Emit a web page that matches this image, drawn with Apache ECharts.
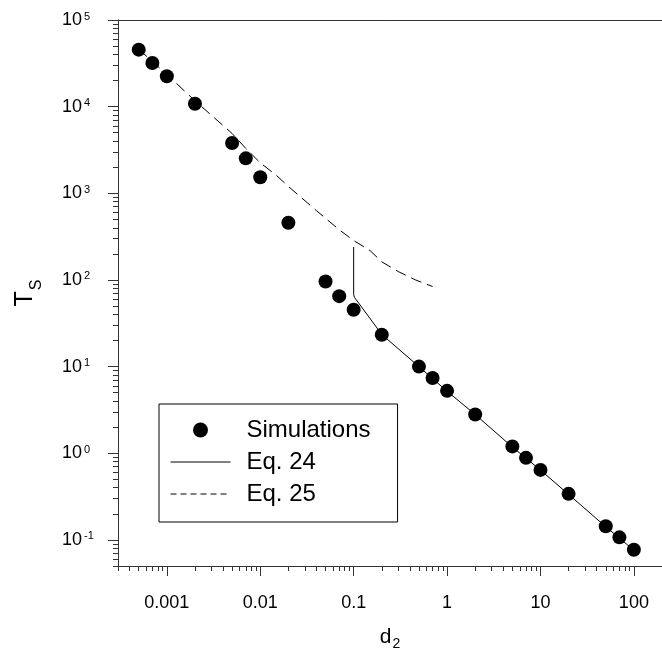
<!DOCTYPE html>
<html>
<head>
<meta charset="utf-8">
<script src="https://cdn.jsdelivr.net/npm/echarts@6/dist/echarts.min.js"></script>
<style>
  html, body { margin: 0; padding: 0; background: #fff; }
  #chart { width: 662px; height: 656px; }
</style>
</head>
<body>
<div id="chart"></div>
<script>
// Simulated settling times T_S against d_2
const simD2 = [0.0005, 0.0007, 0.001, 0.002, 0.005, 0.007, 0.01, 0.02,
               0.05, 0.07, 0.1, 0.2, 0.5, 0.7, 1, 2, 5, 7, 10, 20, 50, 70, 100];
const simTs = [45500, 31900, 22400, 10800, 3800, 2530, 1530, 458,
               96, 65, 45.3, 23.3, 10.0, 7.4, 5.25, 2.8, 1.2, 0.885, 0.643, 0.34, 0.144, 0.107, 0.077];

// Eq. 24 (valid for d_2 >= 0.1)
const eq24D2 = [0.1, 0.1, 0.102, 0.2, 0.5, 1, 2, 5, 10, 20, 50, 100];
const eq24Ts = [240, 68, 63, 23.5, 10, 5.2, 2.8, 1.18, 0.64, 0.335, 0.142, 0.076];

// Eq. 25 (small d_2)
const eq25D2 = [0.0005, 0.001, 0.002, 0.005, 0.007, 0.01, 0.015, 0.02, 0.04, 0.07, 0.1, 0.15, 0.2, 0.3, 0.46, 0.7];
const eq25Ts = [46000, 23500, 11700, 4900, 3300, 2250, 1600, 1200, 630, 380, 285, 218, 162, 125, 100, 84];

// Axis tick marks
const xMajorTicks = [0.001, 0.01, 0.1, 1, 10, 100];
const xTickLabels = ['0.001', '0.01', '0.1', '1', '10', '100'];
const yMajorTicks = [0.1, 1, 10, 100, 1000, 10000, 100000];
const yExponents = ['-1', '0', '1', '2', '3', '4', '5'];
const minorSteps = [2, 3, 4, 5, 6, 7, 8, 9];
const xDecades = [0.0001, 0.001, 0.01, 0.1, 1, 10, 100];
const yDecades = [0.01, 0.1, 1, 10, 100, 1000, 10000];

const X_MIN = 0.0003, X_MAX = 200;
const Y_MIN = 0.05, Y_MAX = 100000;

function minorTicks(decades, lo, hi) {
  const out = [];
  decades.forEach(d => minorSteps.forEach(m => {
    const v = +(d * m).toPrecision(6);
    if (v >= lo * 0.999 && v <= hi * 1.001) out.push(v);
  }));
  return out;
}
const xMinorTicks = minorTicks(xDecades, X_MIN, X_MAX);
const yMinorTicks = minorTicks(yDecades, Y_MIN, Y_MAX);

const FONT = 'Liberation Sans, Arial, sans-serif';
const AXIS_COLOR = '#333';

function zip(a, b) { return a.map((v, i) => [v, b[i]]); }

const chart = echarts.init(document.getElementById('chart'), null, { renderer: 'canvas' });

chart.setOption({
  animation: false,
  backgroundColor: '#fff',
  textStyle: { fontFamily: FONT },
  grid: { left: 118, top: 20, right: 0, bottom: 90, outerBoundsMode: 'none', containLabel: false },
  legend: {
    orient: 'vertical',
    left: 159,
    top: 404,
    padding: [14, 27, 16, 11],
    borderColor: '#000',
    borderWidth: 1,
    itemWidth: 60,
    itemHeight: 15,
    itemGap: 8,
    selectedMode: false,
    textStyle: { fontFamily: FONT, fontSize: 24, color: '#000', padding: [0, 0, 0, 11] },
    data: [
      { name: 'Simulations', icon: 'circle' },
      { name: 'Eq. 24', itemStyle: { opacity: 0 }, lineStyle: { type: 'solid', width: 1 } },
      { name: 'Eq. 25', itemStyle: { opacity: 0 }, lineStyle: { type: [6, 4], width: 1 } }
    ]
  },
  xAxis: [
    {
      type: 'log', min: X_MIN, max: X_MAX, position: 'bottom',
      axisLine: { show: true, lineStyle: { color: AXIS_COLOR, width: 1 } },
      axisTick: { show: true, length: 10, customValues: xMajorTicks, lineStyle: { color: AXIS_COLOR } },
      axisLabel: {
        show: true, customValues: xMajorTicks, margin: 28,
        fontFamily: FONT, fontSize: 18, color: '#000',
        formatter: v => xTickLabels[xMajorTicks.findIndex(t => Math.abs(Math.log10(t) - Math.log10(v)) < 1e-6)]
      },
      splitLine: { show: false },
      name: '{d|d}{s|2}',
      nameLocation: 'middle',
      nameGap: 61,
      nameTextStyle: {
        rich: {
          d: { fontFamily: FONT, fontSize: 21, lineHeight: 21, color: '#000', verticalAlign: 'top' },
          s: { fontFamily: FONT, fontSize: 14, lineHeight: 14, color: '#000', verticalAlign: 'top', padding: [10, 0, 0, 1] }
        }
      }
    },
    {
      type: 'log', min: X_MIN, max: X_MAX, position: 'bottom',
      axisLine: { show: false },
      axisTick: { show: true, length: 5, customValues: xMinorTicks, lineStyle: { color: AXIS_COLOR } },
      axisLabel: { show: false },
      splitLine: { show: false }
    },
    {
      type: 'log', min: X_MIN, max: X_MAX, position: 'top',
      axisLine: { show: true, lineStyle: { color: AXIS_COLOR, width: 1 } },
      axisTick: { show: false },
      axisLabel: { show: false },
      splitLine: { show: false }
    }
  ],
  yAxis: [
    {
      type: 'log', min: Y_MIN, max: Y_MAX, position: 'left',
      axisLine: { show: true, lineStyle: { color: AXIS_COLOR, width: 1 } },
      axisTick: { show: true, length: 10, customValues: yMajorTicks, lineStyle: { color: AXIS_COLOR } },
      axisLabel: {
        show: true, customValues: yMajorTicks, margin: 56, align: 'left',
        formatter: v => '{b|10}{s|' + yExponents[Math.round(Math.log10(v)) + 1] + '}',
        rich: {
          b: { fontFamily: FONT, fontSize: 18, lineHeight: 18, color: '#000', verticalAlign: 'bottom' },
          s: { fontFamily: FONT, fontSize: 11, lineHeight: 11, color: '#000', verticalAlign: 'top', padding: [0, 0, 8, 2] }
        }
      },
      splitLine: { show: false },
      name: '{t|T}{s|S}',
      nameLocation: 'middle',
      nameRotate: 90,
      nameGap: 80,
      nameTextStyle: {
        rich: {
          t: { fontFamily: FONT, fontSize: 25, lineHeight: 25, color: '#000', verticalAlign: 'top' },
          s: { fontFamily: FONT, fontSize: 16, lineHeight: 16, color: '#000', verticalAlign: 'top', padding: [16, 0, 0, 1] }
        }
      }
    },
    {
      type: 'log', min: Y_MIN, max: Y_MAX, position: 'left',
      axisLine: { show: false },
      axisTick: { show: true, length: 5, customValues: yMinorTicks, lineStyle: { color: AXIS_COLOR } },
      axisLabel: { show: false },
      splitLine: { show: false }
    }
  ],
  series: [
    {
      name: 'Eq. 25', type: 'line', xAxisIndex: 0, yAxisIndex: 0,
      data: zip(eq25D2, eq25Ts),
      symbol: 'none', showSymbol: false, smooth: false,
      lineStyle: { color: '#000', width: 1, type: [11, 6] },
      itemStyle: { color: '#000' },
      emphasis: { disabled: true }, z: 2
    },
    {
      name: 'Eq. 24', type: 'line', xAxisIndex: 0, yAxisIndex: 0,
      data: zip(eq24D2, eq24Ts),
      symbol: 'none', showSymbol: false, smooth: false,
      lineStyle: { color: '#000', width: 1, type: 'solid' },
      itemStyle: { color: '#000' },
      emphasis: { disabled: true }, z: 2
    },
    {
      name: 'Simulations', type: 'scatter', xAxisIndex: 0, yAxisIndex: 0,
      data: zip(simD2, simTs),
      symbol: 'circle', symbolSize: 14,
      itemStyle: { color: '#000', opacity: 1 },
      emphasis: { disabled: true }, z: 3
    }
  ]
});
</script>
</body>
</html>
